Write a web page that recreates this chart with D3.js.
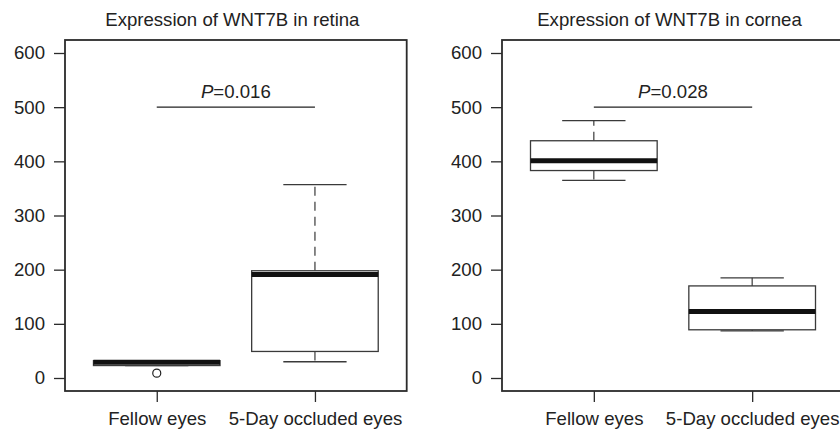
<!DOCTYPE html>
<html>
<head>
<meta charset="utf-8">
<script src="https://cdn.jsdelivr.net/npm/d3@7"></script>
<style>
  html, body { margin: 0; padding: 0; background: #fff; }
  text { font-family: "Liberation Sans", Arial, Helvetica, sans-serif; fill: #222; }
</style>
</head>
<body>
<svg id="chart" width="840" height="432"></svg>
<script>
// ---- Data ----
const categories = ["Fellow eyes", "5-Day occluded eyes"];
const yTicks = [0, 100, 200, 300, 400, 500, 600];

const retinaLow      = [23, 30];
const retinaQ1       = [23, 49];
const retinaMedian   = [29, 191];
const retinaQ3       = [32, 198];
const retinaHigh     = [32, 357];
const retinaOutliers = [[9], []];
const retinaTitle    = "Expression of WNT7B in retina";
const retinaP        = "0.016";

const corneaLow      = [365, 87];
const corneaQ1       = [383, 89];
const corneaMedian   = [401, 123];
const corneaQ3       = [438, 170];
const corneaHigh     = [475, 185];
const corneaOutliers = [[], []];
const corneaTitle    = "Expression of WNT7B in cornea";
const corneaP        = "0.028";

const pLineValue = 500;

// ---- Drawing ----
const svg = d3.select("#chart");
const frameColor = "#2b2b2b";
const boxColor = "#3a3a3a";
const fs = 18.6;

function drawPanel(left, right, title, low, q1, med, q3, high, outliers, pval) {
  const g = svg.append("g");
  const x = d3.scaleLinear().domain([0.42, 2.58]).range([left, right]);
  const y = d3.scaleLinear().domain([-24, 624]).range([391, 40]);
  const boxHalf = 0.4, capHalf = 0.2;

  categories.forEach((c, i) => {
    const cx = i + 1;
    g.append("line")
      .attr("x1", x(cx)).attr("x2", x(cx))
      .attr("y1", y(q3[i])).attr("y2", y(high[i]))
      .attr("stroke", boxColor).attr("stroke-width", 1.2).attr("stroke-dasharray", "9,6");
    g.append("line")
      .attr("x1", x(cx)).attr("x2", x(cx))
      .attr("y1", y(q1[i])).attr("y2", y(low[i]))
      .attr("stroke", boxColor).attr("stroke-width", 1.2).attr("stroke-dasharray", "9,6");
    [low[i], high[i]].forEach(v => {
      g.append("line")
        .attr("x1", x(cx - capHalf)).attr("x2", x(cx + capHalf))
        .attr("y1", y(v)).attr("y2", y(v))
        .attr("stroke", boxColor).attr("stroke-width", 1.3);
    });
    g.append("rect")
      .attr("x", x(cx - boxHalf)).attr("width", x(cx + boxHalf) - x(cx - boxHalf))
      .attr("y", y(q3[i])).attr("height", y(q1[i]) - y(q3[i]))
      .attr("fill", "#fff").attr("stroke", boxColor).attr("stroke-width", 1.3);
    g.append("line")
      .attr("x1", x(cx - boxHalf)).attr("x2", x(cx + boxHalf))
      .attr("y1", y(med[i])).attr("y2", y(med[i]))
      .attr("stroke", "#111").attr("stroke-width", 5);
    outliers[i].forEach(v => {
      g.append("circle")
        .attr("cx", x(cx)).attr("cy", y(v)).attr("r", 4)
        .attr("fill", "none").attr("stroke", "#222").attr("stroke-width", 1.2);
    });
  });

  g.append("rect")
    .attr("x", left).attr("y", 40)
    .attr("width", right - left).attr("height", 351)
    .attr("fill", "none").attr("stroke", frameColor).attr("stroke-width", 1.8);

  const yAxis = d3.axisLeft(y).tickValues(yTicks).tickSize(11).tickPadding(9);
  const ya = g.append("g").attr("transform", `translate(${left},0)`).call(yAxis);
  ya.select(".domain").remove();
  ya.selectAll(".tick line").attr("stroke", frameColor).attr("stroke-width", 1.3);
  ya.selectAll(".tick text").attr("font-size", fs).attr("fill", "#222")
    .attr("font-family", '"Liberation Sans", Arial, sans-serif');

  const xAxis = d3.axisBottom(x).tickValues([1, 2]).tickFormat((d) => categories[d - 1])
    .tickSize(11).tickPadding(10);
  const xa = g.append("g").attr("transform", "translate(0,391)").call(xAxis);
  xa.select(".domain").remove();
  xa.selectAll(".tick line").attr("stroke", frameColor).attr("stroke-width", 1.3);
  xa.selectAll(".tick text").attr("font-size", fs).attr("fill", "#222")
    .attr("font-family", '"Liberation Sans", Arial, sans-serif');

  g.append("text")
    .attr("x", (left + right) / 2 - 3.5).attr("y", 26)
    .attr("text-anchor", "middle").attr("font-size", fs)
    .text(title);

  g.append("line")
    .attr("x1", x(1)).attr("x2", x(2))
    .attr("y1", y(pLineValue)).attr("y2", y(pLineValue))
    .attr("stroke", "#222").attr("stroke-width", 1.3);
  const pt = g.append("text")
    .attr("x", (x(1) + x(2)) / 2).attr("y", y(pLineValue) - 9.5)
    .attr("text-anchor", "middle").attr("font-size", fs);
  pt.append("tspan").attr("font-style", "italic").text("P");
  pt.append("tspan").text("=" + pval);
}

drawPanel(65, 406.7, retinaTitle, retinaLow, retinaQ1, retinaMedian, retinaQ3, retinaHigh, retinaOutliers, retinaP);
drawPanel(502, 844, corneaTitle, corneaLow, corneaQ1, corneaMedian, corneaQ3, corneaHigh, corneaOutliers, corneaP);
</script>
</body>
</html>
